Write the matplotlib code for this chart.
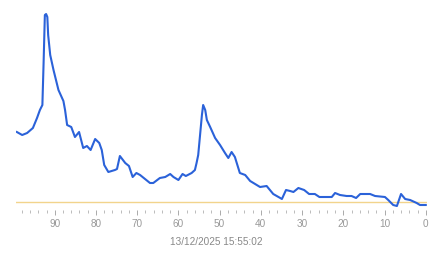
import numpy as np
import matplotlib
matplotlib.use("Agg")
import matplotlib.pyplot as plt
from matplotlib.ticker import MultipleLocator

# data (x = minutes ago, y = value)
minutes_ago = [99.2, 97.9, 96.7, 95.3, 94.3, 93.6, 93.0, 92.7, 92.4, 92.1,
               91.8, 91.6, 91.1, 90.3, 89.1, 87.9, 87.5, 87.0, 86.0, 85.1,
               84.1, 83.1, 82.2, 81.3, 80.2, 79.2, 78.6, 78.0, 77.0, 75.4,
               74.9, 74.2, 72.9, 72.0, 71.1, 70.2, 69.3, 68.1, 66.9, 66.1,
               64.5, 63.2, 62.0, 61.2, 60.0, 59.0, 58.2, 56.8, 56.0, 55.6,
               55.2, 54.3, 54.0, 53.5, 53.1, 52.3, 51.1, 49.9, 48.7, 47.9,
               47.1, 46.3, 45.1, 43.8, 42.6, 41.8, 40.2, 38.6, 37.0, 35.3,
               34.9, 33.9, 32.9, 32.1, 30.9, 29.5, 28.3, 26.9, 25.8, 22.8,
               22.0, 20.8, 19.2, 18.0, 16.9, 15.9, 13.5, 12.3, 9.9, 9.1,
               7.9, 7.0, 6.0, 5.0, 3.8, 2.2, 1.4, 0.0]
values = [7.4, 7.1, 7.3, 7.8, 8.8, 9.6, 10.1, 14.4, 19.1, 19.2,
          18.9, 17.1, 15.1, 13.6, 11.6, 10.5, 9.6, 8.1, 7.9, 6.9,
          7.4, 5.8, 6.0, 5.6, 6.7, 6.3, 5.6, 4.1, 3.4, 3.6,
          3.7, 5.0, 4.3, 4.0, 2.9, 3.3, 3.1, 2.7, 2.3, 2.3,
          2.8, 2.9, 3.2, 2.9, 2.6, 3.2, 3.0, 3.3, 3.6, 4.3,
          5.1, 9.1, 10.1, 9.6, 8.6, 7.9, 6.8, 6.1, 5.3, 4.8,
          5.4, 4.9, 3.3, 3.1, 2.5, 2.3, 1.9, 2.0, 1.2, 0.8,
          0.7, 1.6, 1.5, 1.4, 1.8, 1.6, 1.2, 1.2, 0.9, 0.9,
          1.3, 1.1, 1.0, 1.0, 0.8, 1.2, 1.2, 1.0, 0.9, 0.6,
          0.1, 0.0, 1.2, 0.7, 0.6, 0.3, 0.1, 0.1]
threshold = 0.4
timestamp = "13/12/2025 15:55:02"

plt.rcParams['font.family'] = ['Liberation Sans', 'DejaVu Sans']

W, H = 443, 258
fig = plt.figure(figsize=(W / 100, H / 100), dpi=100)
ax = fig.add_axes([16 / W, 48 / H, 411 / W, 210 / H])

ax.axhline(threshold, color='#f2d48c', lw=1.0, zorder=1)
ax.plot(minutes_ago, values, color='#2b62d9', lw=1.5, zorder=2)

ax.set_xlim(99.4, -0.3)
ax.set_ylim(-0.4, 20.6)

for s in ax.spines.values():
    s.set_visible(False)
ax.set_yticks([])
ax.xaxis.set_major_locator(MultipleLocator(10))
ax.xaxis.set_minor_locator(MultipleLocator(2))
ax.set_xticks(np.arange(0, 100, 10))
ax.tick_params(axis='x', which='major', length=3.6, width=0.7, color='#aaaaaa',
               labelsize=7.2, labelcolor='#999999', pad=2.8)
ax.tick_params(axis='x', which='minor', length=2.0, width=0.7, color='#bbbbbb')

ax.set_xlabel(timestamp, fontsize=7.2, color='#888888', va='center')
ax.xaxis.set_label_coords((216.5 - 16) / 411, (16 - 48) / 210)

fig.savefig('out.png', dpi=100)
